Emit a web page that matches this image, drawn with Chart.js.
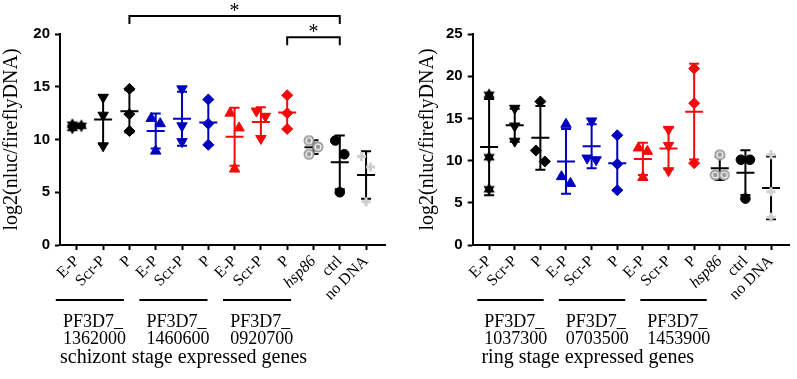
<!DOCTYPE html>
<html>
<head>
<meta charset="utf-8">
<script src="https://cdn.jsdelivr.net/npm/chart.js@4.4.0/dist/chart.umd.min.js"></script>
<style>
  body { margin: 0; background: #fff; width: 797px; height: 379px; position: relative; overflow: hidden; }
  canvas { position: absolute; top: 0; }
</style>
</head>
<body>
<canvas id="graficoEsquizonte" width="398" height="379" style="left:0"></canvas>
<canvas id="graficoAnillo" width="399" height="379" style="left:398px"></canvas>
<script>
//###Datos
const categorias = ['E-P', 'Scr-P', 'P', 'E-P', 'Scr-P', 'P', 'E-P', 'Scr-P', 'P', 'hsp86', 'ctrl', 'no DNA']
const ticksEsquizonte = [0, 5, 10, 15, 20]
const ticksAnillo = [0, 5, 10, 15, 20, 25]
const tituloY = 'log2(nluc/fireflyDNA)'

// schizont: 3 replicas por categoria
const valoresEsquizonte = [
  [11.4, 11.3, 11.1],
  [14.0, 12.3, 9.4],
  [14.8, 12.4, 10.8],
  [12.0, 11.5, 8.9],
  [14.8, 11.3, 9.8],
  [13.8, 11.5, 9.5],
  [12.5, 11.1, 7.2],
  [12.7, 12.2, 10.1],
  [14.2, 12.5, 11.0],
  [9.9, 9.3, 8.6],
  [9.9, 8.6, 5.0],
  [8.4, 7.4, 4.1]
]
const genesEsquizonte = ['PF3D7_\n1362000', 'PF3D7_\n1460600', 'PF3D7_\n0920700']
const tituloEsquizonte = 'schizont stage expressed genes'
const significancia = [[8, 10], [2, 10]] // pares comparados (indices de categoria)

// ring: 3 replicas por categoria
const valoresAnillo = [
  [17.8, 10.4, 6.6],
  [16.2, 14.1, 12.3],
  [17.0, 11.2, 9.9],
  [14.3, 8.1, 7.3],
  [14.7, 10.3, 10.1],
  [13.0, 9.6, 6.5],
  [11.5, 11.1, 8.0],
  [13.7, 11.8, 8.8],
  [20.9, 16.8, 9.7],
  [10.7, 8.3, 8.3],
  [10.1, 10.1, 5.5],
  [10.7, 6.3, 3.3]
]
const genesAnillo = ['PF3D7_\n1037300', 'PF3D7_\n0703500', 'PF3D7_\n1453900']
const tituloAnillo = 'ring stage expressed genes'

//###Estilos
const NEGRO = '#000000', AZUL = '#0000c0', ROJO = '#f50a0a', GRIS = '#9b9b9b', GRIS_CLARO = '#cfcfcf'
const SERIF = 'Liberation Serif'

function estrella(color) { // hexagrama relleno
  const c = document.createElement('canvas')
  c.width = 14; c.height = 14
  const g = c.getContext('2d')
  g.fillStyle = color
  ;[-90, 90].forEach(a0 => {
    g.beginPath()
    for (let k = 0; k < 3; k++) {
      const a = (a0 + k * 120) * Math.PI / 180
      g.lineTo(7 + 6.5 * Math.cos(a), 7 + 6.5 * Math.sin(a))
    }
    g.closePath()
    g.fill()
  })
  return c
}
function diana(color) { // circulo con anillo blanco
  const c = document.createElement('canvas')
  c.width = 12; c.height = 12
  const g = c.getContext('2d')
  g.fillStyle = color
  g.beginPath(); g.arc(6, 6, 5.5, 0, 2 * Math.PI); g.fill()
  g.strokeStyle = '#ffffff'; g.lineWidth = 1.2
  g.beginPath(); g.arc(6, 6, 3, 0, 2 * Math.PI); g.stroke()
  return c
}

const colores = [NEGRO, NEGRO, NEGRO, AZUL, AZUL, AZUL, ROJO, ROJO, ROJO, GRIS, NEGRO, GRIS_CLARO]
const coloresBarra = [NEGRO, NEGRO, NEGRO, AZUL, AZUL, AZUL, ROJO, ROJO, ROJO, NEGRO, NEGRO, NEGRO]
function marcador(i) {
  const c = colores[i]
  if (i === 0) return { pointStyle: estrella(c), pointRadius: 6 }
  if (i === 9) return { pointStyle: diana(c), pointRadius: 6 }
  if (i === 10) return { pointStyle: 'circle', pointRadius: 4.8 }
  if (i === 11) return { pointStyle: 'cross', pointRadius: 4.5, borderWidth: 3 }
  const k = i % 3
  if (k === 0) return { pointStyle: 'triangle', pointRadius: 6 }
  if (k === 1) return { pointStyle: 'triangle', pointRadius: 6, pointRotation: 180 }
  return { pointStyle: 'rectRot', pointRadius: 5.5 }
}

//###Plugins
// separa puntos que se solapan (como el dot plot original)
const dispersion = {
  id: 'dispersion',
  afterDatasetsUpdate(chart) {
    chart.data.datasets.forEach((ds, i) => {
      const pts = chart.getDatasetMeta(i).data.slice().sort((a, b) => a.y - b.y)
      let grupo = [pts[0]]
      const grupos = [grupo]
      for (let k = 1; k < pts.length; k++) {
        if (pts[k].y - pts[k - 1].y < 15) grupo.push(pts[k])
        else { grupo = [pts[k]]; grupos.push(grupo) }
      }
      grupos.forEach(g => {
        if (g.length > 1) g.forEach((p, k) => { p.x += (k % 2 ? 4.5 : -4.5) })
      })
    })
  }
}

// media +/- DE
const mediaDE = {
  id: 'mediaDE',
  beforeDatasetsDraw(chart) {
    const ctx = chart.ctx, x = chart.scales.x, y = chart.scales.y
    chart.data.datasets.forEach(ds => {
      const v = ds.data.map(p => p.y)
      const m = v.reduce((a, b) => a + b, 0) / v.length
      const de = Math.sqrt(v.reduce((a, b) => a + (b - m) ** 2, 0) / (v.length - 1))
      const px = x.getPixelForValue(ds.data[0].x)
      const yM = y.getPixelForValue(m), yA = y.getPixelForValue(m + de), yB = y.getPixelForValue(m - de)
      ctx.save()
      ctx.strokeStyle = ds.colorBarra
      ctx.lineWidth = 2
      ctx.beginPath()
      ctx.moveTo(px, yA); ctx.lineTo(px, yB)
      ctx.moveTo(px - 5, yA); ctx.lineTo(px + 5, yA)
      ctx.moveTo(px - 5, yB); ctx.lineTo(px + 5, yB)
      ctx.moveTo(px - 9, yM); ctx.lineTo(px + 9, yM)
      ctx.stroke()
      ctx.restore()
    })
  }
}

// genes, titulo inferior y asteriscos
const anotaciones = {
  id: 'anotaciones',
  afterDraw(chart, args, opts) {
    const ctx = chart.ctx, x = chart.scales.x, y = chart.scales.y, area = chart.chartArea
    const d = opts.corrimiento
    ctx.save()
    ctx.fillStyle = '#000'
    ctx.strokeStyle = '#000'
    ctx.lineWidth = 2
    ctx.font = '18px "' + SERIF + '"'
    ctx.textAlign = 'left'
    ctx.textBaseline = 'middle'
    opts.genes.forEach((g, k) => {
      const i0 = 3.18 * k // los grupos van algo mas separados que las marcas
      const yl = area.bottom + 55
      ctx.beginPath()
      ctx.moveTo(x.getPixelForValue(i0 - 0.8 + d), yl)
      ctx.lineTo(x.getPixelForValue(i0 + 1.79 + d), yl)
      ctx.stroke()
      g.split('\n').forEach((t, j) => ctx.fillText(t, x.getPixelForValue(i0 - 0.53 + d), yl + 22 + 17 * j))
    })
    ctx.font = '20px "' + SERIF + '"'
    ctx.fillText(opts.titulo, x.getPixelForValue(-0.64 + d), area.bottom + 113)

    const pares = opts.pares || []
    ctx.textAlign = 'center'
    ctx.textBaseline = 'alphabetic'
    pares.forEach((par, n) => {
      const yb = y.getPixelForValue(opts.nivel + n * opts.paso)
      const xa = x.getPixelForValue(par[0]), xb = x.getPixelForValue(par[1])
      ctx.beginPath()
      ctx.moveTo(xa, yb + 8); ctx.lineTo(xa, yb); ctx.lineTo(xb, yb); ctx.lineTo(xb, yb + 8)
      ctx.stroke()
      ctx.fillText('*', (xa + xb) / 2, yb + 1)
    })
    ctx.restore()
  }
}

//###Grafico
function crearGrafico(id, valores, ticksY, genes, titulo, extra) {
  const datasets = valores.map((vals, i) => Object.assign({
    data: vals.map(v => ({ x: i, y: v })),
    backgroundColor: colores[i],
    borderColor: colores[i],
    borderWidth: 1,
    colorBarra: coloresBarra[i]
  }, marcador(i)))

  return new Chart(document.getElementById(id), {
    type: 'scatter',
    data: { datasets: datasets },
    plugins: [dispersion, mediaDE, anotaciones],
    options: {
      responsive: false,
      animation: false,
      events: [],
      layout: { padding: { left: extra.izq, right: extra.der, top: 34, bottom: 0 } },
      plugins: {
        legend: { display: false },
        tooltip: { enabled: false },
        anotaciones: { genes: genes, titulo: titulo, corrimiento: extra.corrimiento, pares: extra.pares, nivel: extra.nivel, paso: extra.paso }
      },
      scales: {
        x: {
          type: 'linear',
          min: -0.64,
          max: 11.72,
          afterBuildTicks: s => { s.ticks = categorias.map((c, i) => ({ value: i })) },
          afterFit: s => { s.height = 134; s.paddingLeft = 0; s.paddingRight = 0 },
          border: { color: '#000', width: 2 },
          grid: { drawOnChartArea: false, tickLength: 5, tickWidth: 2, tickColor: '#000' },
          ticks: {
            autoSkip: false,
            minRotation: 45,
            maxRotation: 45,
            padding: 2,
            color: '#000',
            callback: v => categorias[v],
            font: c => ({ family: SERIF, size: 16, style: c.index === 9 ? 'italic' : 'normal' })
          }
        },
        y: {
          min: ticksY[0],
          max: ticksY[ticksY.length - 1],
          afterBuildTicks: s => { s.ticks = ticksY.map(v => ({ value: v })) },
          afterFit: s => { s.width = extra.anchoY },
          border: { color: '#000', width: 2 },
          grid: { drawOnChartArea: false, tickLength: 5, tickWidth: 2, tickColor: '#000' },
          ticks: { padding: 5, color: '#000', font: { family: 'Liberation Sans', size: 15, weight: 'bold' } },
          title: { display: true, text: tituloY, color: '#000', padding: 0, font: { family: SERIF, size: 20 } }
        }
      }
    }
  })
}

var esquizonte = crearGrafico('graficoEsquizonte', valoresEsquizonte, ticksEsquizonte, genesEsquizonte, tituloEsquizonte,
  { izq: 0, der: 13, anchoY: 60, corrimiento: 0, pares: significancia, nivel: 19.7, paso: 2 })
var anillo = crearGrafico('graficoAnillo', valoresAnillo, ticksAnillo, genesAnillo, tituloAnillo,
  { izq: 18, der: 0, anchoY: 56.7, corrimiento: 0.34, pares: [], nivel: 0, paso: 0 })
</script>
</body>
</html>
